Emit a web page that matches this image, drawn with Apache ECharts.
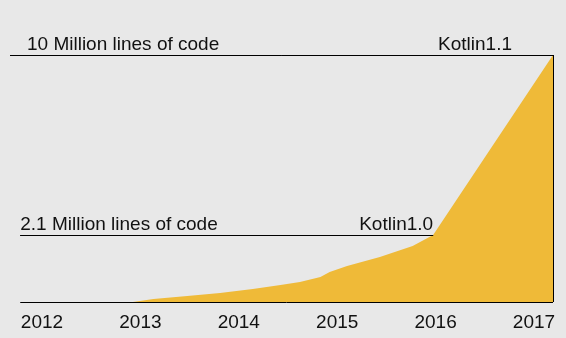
<!DOCTYPE html>
<html>
<head>
<meta charset="utf-8">
<script src="https://cdn.jsdelivr.net/npm/echarts@6/dist/echarts.min.js"></script>
<style>
html,body{margin:0;padding:0;background:#e8e8e8;}
#chart{width:566px;height:338px;}
</style>
</head>
<body>
<div id="chart"></div>
<script>
// Data (x in fractional years, y in visual "million lines" units)
const years = [2012.0, 2013.10, 2013.30, 2013.63, 2013.95, 2014.27, 2014.54, 2014.73, 2014.93, 2015.02, 2015.19, 2015.51, 2015.83, 2016.03, 2017.2];
const lines = [0, 0, 0.12, 0.24, 0.36, 0.53, 0.69, 0.81, 1.01, 1.21, 1.46, 1.82, 2.27, 2.71, 10];
const tickLabels = ['2012', '2013', '2014', '2015', '2016', '2017'];
const topLabel = '10 Million lines of code';
const midLabel = '2.1 Million lines of code';
const release10 = 'Kotlin1.0';
const release11 = 'Kotlin1.1';

const xMin = 2011.9, xStart = 2012.0, xEnd = 2017.2;
const midY = lines[13], midX = years[13];
const topY = lines[14];

const font = 'Liberation Sans, Arial, sans-serif';
const txt = {color: '#111', fontSize: 19, fontFamily: font};
const ls = {color: '#000', width: 1, type: 'solid'};

const chart = echarts.init(document.getElementById('chart'));
chart.setOption({
  backgroundColor: '#e8e8e8',
  animation: false,
  grid: [
    {left: 10, right: 13, top: 55, bottom: 36},
    {left: 42, right: 32, top: 55, bottom: 36}
  ],
  xAxis: [
    {type: 'value', gridIndex: 0, min: xMin, max: xEnd, show: false},
    {type: 'category', gridIndex: 1, data: tickLabels, boundaryGap: false,
     axisLine: {show: false}, axisTick: {show: false}, splitLine: {show: false},
     axisLabel: {interval: 0, margin: 11, ...txt}}
  ],
  yAxis: [
    {type: 'value', gridIndex: 0, min: 0, max: 10, show: false},
    {type: 'value', gridIndex: 1, min: 0, max: 10, show: false}
  ],
  series: [{
    type: 'line',
    xAxisIndex: 0, yAxisIndex: 0,
    data: years.map((x, i) => [x, lines[i]]),
    symbol: 'none',
    clip: false,
    lineStyle: {width: 0},
    areaStyle: {color: '#efba38', opacity: 1},
    markLine: {
      silent: true,
      symbol: ['none', 'none'],
      lineStyle: ls,
      data: [
        [{coord: [xMin, topY], label: {show: true, formatter: topLabel, position: 'insideStartTop', distance: [17, 1], ...txt}},
         {coord: [xEnd, topY]}],
        [{coord: [xMin, topY], label: {show: true, formatter: release11, position: 'insideEndTop', distance: [41, 1], ...txt}},
         {coord: [xEnd, topY]}],
        [{coord: [xStart, midY], label: {show: true, formatter: midLabel, position: 'insideStartTop', distance: [0, 1], ...txt}},
         {coord: [midX, midY]}],
        [{coord: [xStart, midY], label: {show: true, formatter: release10, position: 'insideEndTop', distance: [0, 1], ...txt}},
         {coord: [midX, midY]}],
        [{coord: [xStart, 0], label: {show: false}}, {coord: [xEnd, 0]}],
        [{coord: [xEnd, 0], label: {show: false}}, {coord: [xEnd, topY]}]
      ]
    }
  }]
});
</script>
</body>
</html>
